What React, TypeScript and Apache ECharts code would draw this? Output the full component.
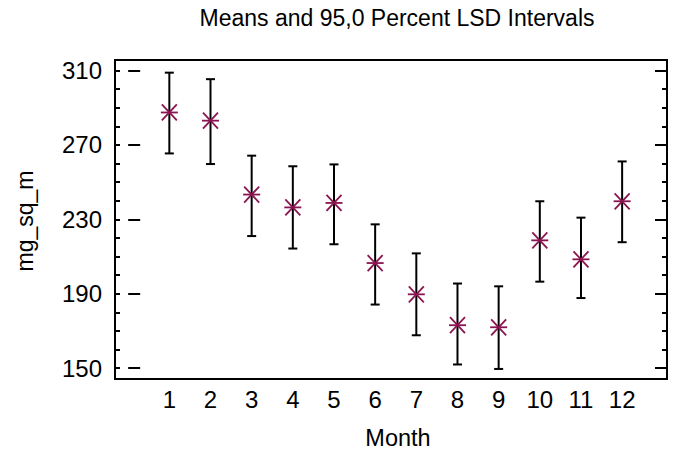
import React, { useEffect, useRef } from "react";
import * as echarts from "echarts";

const months = [1, 2, 3, 4, 5, 6, 7, 8, 9, 10, 11, 12];
const means = [287.4, 283.0, 243.3, 236.4, 238.8, 206.5, 189.7, 173.1, 172.0, 218.7, 208.5, 239.7];
const lower = [265.4, 259.7, 221.0, 214.3, 216.6, 184.2, 167.7, 152.0, 149.6, 196.5, 187.7, 217.7];
const upper = [308.8, 305.3, 264.2, 258.5, 259.5, 227.3, 211.7, 195.5, 194.0, 239.7, 230.9, 261.1];
const yMajorTicks = [150, 190, 230, 270, 310];
const yMinorTicks = [150, 160, 170, 180, 190, 200, 210, 220, 230, 240, 250, 260, 270, 280, 290, 300, 310];
const xTickLabels = [1, 2, 3, 4, 5, 6, 7, 8, 9, 10, 11, 12];

const FONT = "'Liberation Sans', Arial, sans-serif";
const MARK = "#8a1450";
const Y_MIN = 144.2;
const Y_MAX = 315.6;

export default function App() {
  const ref = useRef<HTMLDivElement>(null);
  useEffect(() => {
    if (!ref.current) return;
    const chart = echarts.init(ref.current, undefined, { renderer: "svg" });
    const yBase = (position: string, ticks: number[], len: number, labels: boolean) => ({
      type: "value",
      min: Y_MIN,
      max: Y_MAX,
      position,
      axisLine: { show: false },
      splitLine: { show: false },
      axisTick: {
        show: true,
        inside: true,
        length: len,
        customValues: ticks,
        lineStyle: { color: "#000", width: 2 },
      },
      axisLabel: labels
        ? { show: true, customValues: yMajorTicks, fontSize: 24, fontFamily: FONT, color: "#000", margin: 13 }
        : { show: false },
    });
    chart.setOption({
      animation: false,
      grid: {
        left: 115,
        right: 12,
        top: 60,
        bottom: 72,
        show: true,
        borderColor: "#000",
        borderWidth: 2,
        backgroundColor: "transparent",
      },
      xAxis: {
        type: "value",
        min: -0.32,
        max: 13.09,
        axisLine: { show: false },
        axisTick: { show: false },
        splitLine: { show: false },
        axisLabel: { customValues: xTickLabels, fontSize: 24, fontFamily: FONT, color: "#000", margin: 8 },
      },
      yAxis: [
        yBase("left", yMajorTicks, 12, true),
        yBase("left", yMinorTicks, 5, false),
        yBase("right", yMajorTicks, 12, false),
        yBase("right", yMinorTicks, 5, false),
      ],
      graphic: [
        {
          type: "text",
          x: 397,
          y: 18,
          style: {
            text: "Means and 95,0 Percent LSD Intervals",
            fontSize: 23,
            fontFamily: FONT,
            fill: "#000",
            align: "center",
            verticalAlign: "middle",
          },
        },
        {
          type: "text",
          x: 25,
          y: 221,
          rotation: Math.PI / 2,
          style: {
            text: "mg_sq_m",
            fontSize: 23,
            fontFamily: FONT,
            fill: "#000",
            align: "center",
            verticalAlign: "middle",
          },
        },
        {
          type: "text",
          x: 398,
          y: 438,
          style: {
            text: "Month",
            fontSize: 23.5,
            fontFamily: FONT,
            fill: "#000",
            align: "center",
            verticalAlign: "middle",
          },
        },
      ],
      series: [
        {
          type: "custom",
          xAxisIndex: 0,
          yAxisIndex: 0,
          encode: { x: 0, y: [1, 2] },
          data: months.map((m, i) => [m, lower[i], upper[i]]),
          renderItem: (params: any, api: any) => {
            const x = api.value(0);
            const pLo = api.coord([x, api.value(1)]);
            const pHi = api.coord([x, api.value(2)]);
            const style = { stroke: "#000", lineWidth: 2 };
            const hw = 4.5;
            return {
              type: "group",
              children: [
                { type: "line", shape: { x1: pLo[0], y1: pLo[1], x2: pHi[0], y2: pHi[1] }, style },
                { type: "line", shape: { x1: pLo[0] - hw, y1: pLo[1], x2: pLo[0] + hw, y2: pLo[1] }, style },
                { type: "line", shape: { x1: pHi[0] - hw, y1: pHi[1], x2: pHi[0] + hw, y2: pHi[1] }, style },
              ],
            };
          },
        },
        {
          type: "custom",
          xAxisIndex: 0,
          yAxisIndex: 0,
          encode: { x: 0, y: 1 },
          data: months.map((m, i) => [m, means[i]]),
          renderItem: (params: any, api: any) => {
            const p = api.coord([api.value(0), api.value(1)]);
            const style = { stroke: MARK, lineWidth: 1.8 };
            const h = 8.5;
            const dx = 7.5;
            const dy = 8;
            return {
              type: "group",
              children: [
                { type: "line", shape: { x1: p[0] - h, y1: p[1], x2: p[0] + h, y2: p[1] }, style },
                { type: "line", shape: { x1: p[0] - dx, y1: p[1] - dy, x2: p[0] + dx, y2: p[1] + dy }, style },
                { type: "line", shape: { x1: p[0] - dx, y1: p[1] + dy, x2: p[0] + dx, y2: p[1] - dy }, style },
              ],
            };
          },
        },
      ],
    });
    return () => chart.dispose();
  }, []);
  return <div ref={ref} style={{ width: 679, height: 451, position: "absolute", left: 0, top: 0 }} />;
}
